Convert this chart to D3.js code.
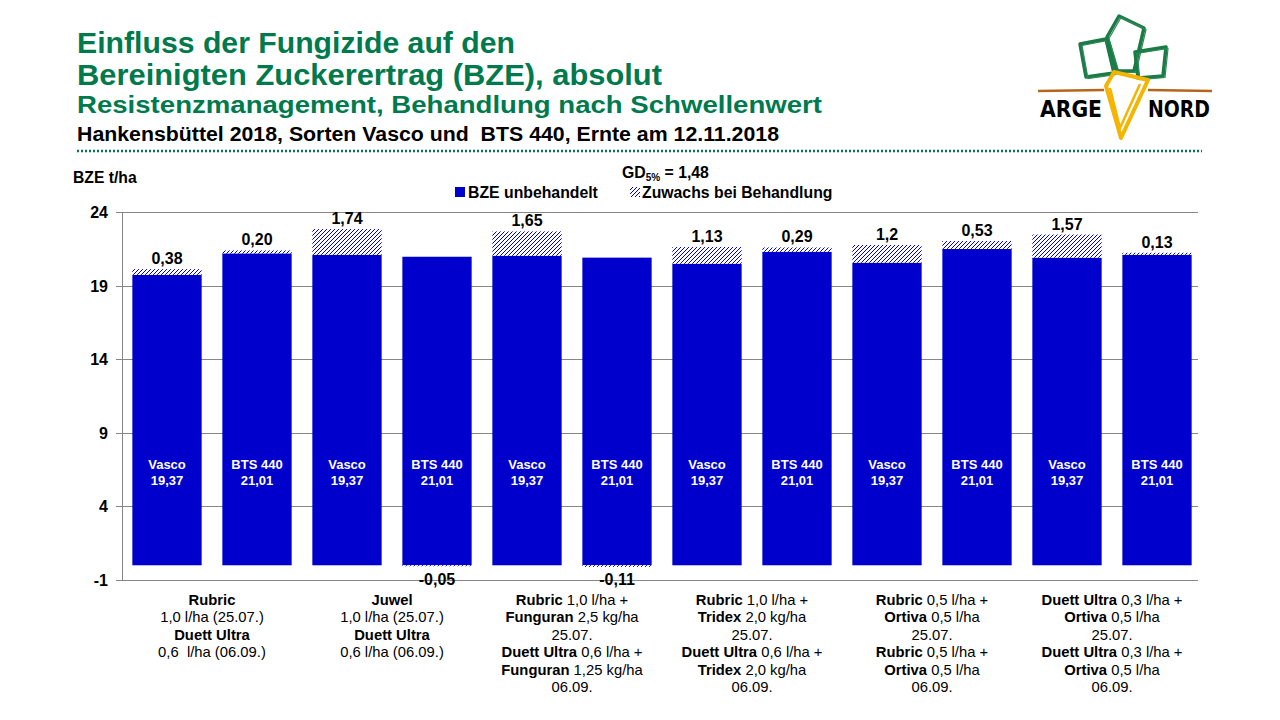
<!DOCTYPE html>
<html>
<head>
<meta charset="utf-8">
<script src="https://d3js.org/d3.v7.min.js"></script>
<style>
  body { margin: 0; background: #fff; }
  svg { font-family: "Liberation Sans", Arial, sans-serif; }
</style>
</head>
<body>
<svg id="chart" width="1280" height="720"></svg>
<script>
// ---- data ----
const sorten = ["Vasco", "BTS 440", "Vasco", "BTS 440", "Vasco", "BTS 440",
                "Vasco", "BTS 440", "Vasco", "BTS 440", "Vasco", "BTS 440"];
const sortenMittel = ["19,37", "21,01", "19,37", "21,01", "19,37", "21,01",
                      "19,37", "21,01", "19,37", "21,01", "19,37", "21,01"];
const unbehandelt = [19.74, 21.19, 21.10, 20.96, 21.03, 20.90, 20.49, 21.30, 20.56, 21.50, 20.90, 21.10];
const zuwachs = [0.38, 0.20, 1.74, -0.05, 1.65, -0.11, 1.13, 0.29, 1.2, 0.53, 1.57, 0.13];
const zuwachsLabels = ["0,38", "0,20", "1,74", "-0,05", "1,65", "-0,11", "1,13", "0,29", "1,2", "0,53", "1,57", "0,13"];
const yTicks = [-1, 4, 9, 14, 19, 24];

// treatment text under each pair of bars: each line is [bold part, normal part]
const behandlungen = [
  [["Rubric", ""], ["", "1,0 l/ha (25.07.)"], ["Duett Ultra", ""], ["", "0,6  l/ha (06.09.)"]],
  [["Juwel", ""], ["", "1,0 l/ha (25.07.)"], ["Duett Ultra", ""], ["", "0,6 l/ha (06.09.)"]],
  [["Rubric", " 1,0 l/ha +"], ["Funguran", " 2,5 kg/ha"], ["", "25.07."],
   ["Duett Ultra", " 0,6 l/ha +"], ["Funguran", " 1,25 kg/ha"], ["", "06.09."]],
  [["Rubric", " 1,0 l/ha +"], ["Tridex", " 2,0 kg/ha"], ["", "25.07."],
   ["Duett Ultra", " 0,6 l/ha +"], ["Tridex", " 2,0 kg/ha"], ["", "06.09."]],
  [["Rubric", " 0,5 l/ha +"], ["Ortiva", " 0,5 l/ha"], ["", "25.07."],
   ["Rubric", " 0,5 l/ha +"], ["Ortiva", " 0,5 l/ha"], ["", "06.09."]],
  [["Duett Ultra", " 0,3 l/ha +"], ["Ortiva", " 0,5 l/ha"], ["", "25.07."],
   ["Duett Ultra", " 0,3 l/ha +"], ["Ortiva", " 0,5 l/ha"], ["", "06.09."]]
];

const green = "#007a4d";
const blue = "#0000cc";

const svg = d3.select("#chart");

// hatch pattern for the increase
const defs = svg.append("defs");
const pat = defs.append("pattern")
    .attr("id", "hatch")
    .attr("patternUnits", "userSpaceOnUse")
    .attr("width", 4).attr("height", 4);
pat.append("rect").attr("width", 4).attr("height", 4).attr("fill", "#fff");
pat.append("path")
    .attr("d", "M-1,1 l2,-2 M0,4 l4,-4 M3,5 l2,-2")
    .attr("stroke", blue).attr("stroke-width", 1);

// ---- titles ----
function fitText(sel, width) {
  sel.attr("textLength", width).attr("lengthAdjust", "spacingAndGlyphs");
}
svg.append("text").attr("x", 77).attr("y", 53)
    .attr("fill", green).attr("font-weight", "bold").attr("font-size", 29)
    .text("Einfluss der Fungizide auf den").call(fitText, 438);
svg.append("text").attr("x", 77).attr("y", 85)
    .attr("fill", green).attr("font-weight", "bold").attr("font-size", 29)
    .text("Bereinigten Zuckerertrag (BZE), absolut").call(fitText, 585);
svg.append("text").attr("x", 77).attr("y", 113)
    .attr("fill", green).attr("font-weight", "bold").attr("font-size", 24)
    .text("Resistenzmanagement, Behandlung nach Schwellenwert").call(fitText, 745);
svg.append("text").attr("x", 77).attr("y", 141)
    .attr("fill", "#000").attr("font-weight", "bold").attr("font-size", 19.5)
    .attr("xml:space", "preserve")
    .text("Hankensbüttel 2018, Sorten Vasco und  BTS 440, Ernte am 12.11.2018").call(fitText, 702);

// dotted separator
svg.append("line")
    .attr("x1", 77).attr("x2", 1202).attr("y1", 151).attr("y2", 151)
    .attr("stroke", green).attr("stroke-width", 2.5)
    .attr("stroke-dasharray", "2,2");

// ---- logo ----
const logo = svg.append("g");
const leaves = [
  [[1080, 44], [1106, 39], [1114, 73], [1086, 77]],
  [[1107, 37], [1119, 16], [1144, 28], [1134, 71], [1117, 71]],
  [[1135, 52], [1166, 47], [1163, 76], [1138, 78]]
];
const line = d3.line();
leaves.forEach(p => {
  logo.append("path").attr("d", line(p) + "Z")
      .attr("fill", "none").attr("stroke", "#1b7a45").attr("stroke-width", 3.5)
      .attr("stroke-linejoin", "round");
  logo.append("path").attr("d", line(p.map(d => [d[0] + 2, d[1] + 1.5])) + "Z")
      .attr("fill", "none").attr("stroke", "#2e8b57").attr("stroke-width", 1.2);
});
logo.append("line").attr("x1", 1038).attr("x2", 1104).attr("y1", 91).attr("y2", 90)
    .attr("stroke", "#b5651d").attr("stroke-width", 2.5);
logo.append("line").attr("x1", 1148).attr("x2", 1212).attr("y1", 90).attr("y2", 91)
    .attr("stroke", "#b5651d").attr("stroke-width", 2.5);
logo.append("path")
    .attr("d", line([[1114, 72], [1148, 80], [1121, 138], [1106, 86]]) + "Z")
    .attr("fill", "none").attr("stroke", "#f5b400").attr("stroke-width", 4)
    .attr("stroke-linejoin", "round");
logo.append("path")
    .attr("d", line([[1110, 88], [1120, 128], [1140, 84]]))
    .attr("fill", "none").attr("stroke", "#f5b400").attr("stroke-width", 2.5);
logo.append("text").attr("x", 1040).attr("y", 117)
    .attr("font-family", "DejaVu Sans, sans-serif")
    .attr("font-weight", "bold").attr("font-size", 23).text("ARGE").call(fitText, 62);
logo.append("text").attr("x", 1148).attr("y", 117)
    .attr("font-family", "DejaVu Sans, sans-serif")
    .attr("font-weight", "bold").attr("font-size", 23).text("NORD").call(fitText, 62);

// ---- scales ----
const x = d3.scaleBand()
    .domain(d3.range(sorten.length))
    .range([122, 1202])
    .paddingInner(0.23)
    .paddingOuter(0.115);
const y = d3.scaleLinear().domain([-1, 24]).range([580, 212]);

// gridlines
svg.append("g")
  .selectAll("line")
  .data(yTicks)
  .join("line")
    .attr("x1", 116).attr("x2", 1198)
    .attr("y1", d => Math.round(y(d)) + 0.5).attr("y2", d => Math.round(y(d)) + 0.5)
    .attr("stroke", "#868686").attr("stroke-width", 1);

svg.append("line")
    .attr("x1", 122.5).attr("x2", 122.5).attr("y1", y(24)).attr("y2", y(-1))
    .attr("stroke", "#868686");

svg.append("g")
  .selectAll("text")
  .data(yTicks)
  .join("text")
    .attr("x", 108).attr("y", d => y(d) + 6)
    .attr("text-anchor", "end")
    .attr("font-weight", "bold").attr("font-size", 16)
    .text(d => d);

svg.append("text").attr("x", 73).attr("y", 183)
    .attr("font-weight", "bold").attr("font-size", 15.7).text("BZE t/ha");

// ---- bars ----
const bars = svg.append("g");
bars.selectAll("rect.base")
  .data(unbehandelt)
  .join("rect")
    .attr("class", "base")
    .attr("x", (d, i) => x(i))
    .attr("width", x.bandwidth())
    .attr("y", d => y(d))
    .attr("height", d => y(0) - y(d))
    .attr("fill", blue);

bars.selectAll("rect.inc")
  .data(zuwachs)
  .join("rect")
    .attr("class", "inc")
    .attr("x", (d, i) => x(i))
    .attr("width", x.bandwidth())
    .attr("y", (d, i) => d >= 0 ? y(unbehandelt[i] + d) : y(0))
    .attr("height", d => Math.max(1, Math.abs(y(0) - y(Math.abs(d)))))
    .attr("fill", "url(#hatch)");

// increase labels
bars.selectAll("text.inc")
  .data(zuwachsLabels)
  .join("text")
    .attr("class", "inc")
    .attr("x", (d, i) => x(i) + x.bandwidth() / 2)
    .attr("y", (d, i) => zuwachs[i] >= 0 ? y(unbehandelt[i] + zuwachs[i]) - 5 : y(0) + 20)
    .attr("text-anchor", "middle")
    .attr("font-weight", "bold").attr("font-size", 16)
    .text(d => d);

// variety labels inside bars
const inside = bars.selectAll("g.inside")
  .data(sorten)
  .join("g")
    .attr("class", "inside")
    .attr("transform", (d, i) => `translate(${x(i) + x.bandwidth() / 2},0)`);
inside.append("text")
    .attr("y", 469).attr("text-anchor", "middle")
    .attr("fill", "#fff").attr("font-weight", "bold").attr("font-size", 13)
    .text(d => d);
inside.append("text")
    .attr("y", 485).attr("text-anchor", "middle")
    .attr("fill", "#fff").attr("font-weight", "bold").attr("font-size", 13)
    .text((d, i) => sortenMittel[i]);

// ---- legend ----
const leg = svg.append("g").attr("font-weight", "bold").attr("font-size", 15.8);
leg.append("rect").attr("x", 455).attr("y", 187).attr("width", 10).attr("height", 10).attr("fill", blue);
leg.append("text").attr("x", 468).attr("y", 198).text("BZE unbehandelt");
leg.append("rect").attr("x", 630).attr("y", 187).attr("width", 10).attr("height", 10).attr("fill", "url(#hatch)");
leg.append("text").attr("x", 642).attr("y", 198).text("Zuwachs bei Behandlung");

const gd = leg.append("text").attr("x", 622).attr("y", 178);
gd.append("tspan").text("GD");
gd.append("tspan").attr("font-size", 10).attr("dy", 3).text("5%");
gd.append("tspan").attr("dy", -3).text(" = 1,48");

// ---- treatment labels ----
const groups = svg.append("g").attr("font-size", 14.8);
behandlungen.forEach((lines, g) => {
  const cx = (x(2 * g) + x(2 * g + 1) + x.bandwidth()) / 2;
  lines.forEach((ln, k) => {
    const t = groups.append("text")
        .attr("x", cx).attr("y", 605 + k * 17.4)
        .attr("text-anchor", "middle")
        .attr("xml:space", "preserve");
    if (ln[0]) t.append("tspan").attr("font-weight", "bold").text(ln[0]);
    if (ln[1]) t.append("tspan").text(ln[1]);
  });
});
</script>
</body>
</html>
